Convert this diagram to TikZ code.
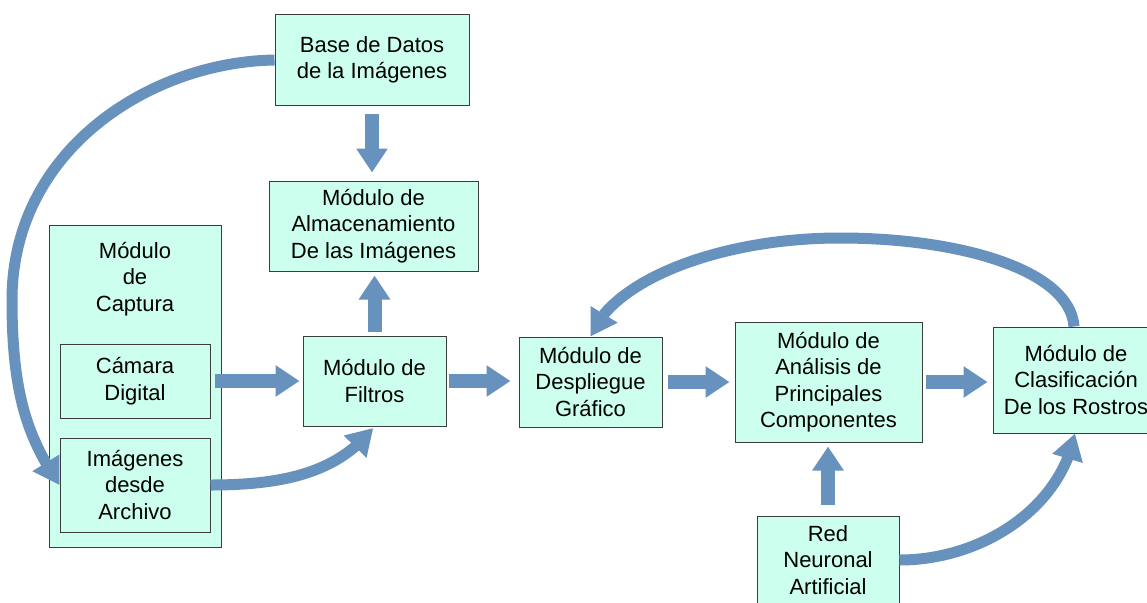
\documentclass[tikz,border=0pt]{standalone}
\usepackage{fontspec}
\setmainfont{Liberation Sans}
\usetikzlibrary{arrows.meta,bending}
\definecolor{boxfill}{RGB}{204,255,238}
\definecolor{boxline}{RGB}{60,60,60}
\definecolor{flow}{RGB}{104,146,190}
\begin{document}
\begin{tikzpicture}[x=1pt,y=-1pt,
  box/.style={draw=boxline, line width=1pt, fill=boxfill, inner sep=0pt,
    align=center, font=\fontsize{22}{26.5}\selectfont},
  caption/.style={inner sep=0pt, align=center, font=\fontsize{22}{26.5}\selectfont},
  blockarrow/.style={draw=flow, line width=14pt, line cap=butt,
    -{Triangle[length=24pt,width=30pt]}},
  curvearrow/.style={draw=flow, line width=11pt, line cap=butt,
    -{Triangle[length=26pt,width=30pt]}},
  ]
\useasboundingbox (0,0) rectangle (1147,602);
\fill[white] (0,0) rectangle (1147,602);

% boxes
\node[box, minimum width=194pt, minimum height=90pt] (base) at (372,60)
  {Base de Datos\\de la Imágenes};
\node[box, minimum width=209pt, minimum height=90pt] (alm) at (373.5,226)
  {Módulo de\\Almacenamiento\\De las Imágenes};
\node[box, minimum width=172pt, minimum height=322pt] (cap) at (135,386) {};
\node[caption] (capt) at (135,279) {Módulo\\de\\Captura};
\node[box, minimum width=150pt, minimum height=74pt] (cam) at (135,381)
  {Cámara\\Digital};
\node[box, minimum width=150pt, minimum height=94pt] (img) at (135,485)
  {Imágenes\\desde\\Archivo};
\node[box, minimum width=143pt, minimum height=90pt] (fil) at (374.5,381)
  {Módulo de\\Filtros};
\node[box, minimum width=143pt, minimum height=90pt] (des) at (590.5,382)
  {Módulo de\\Despliegue\\Gráfico};
\node[box, minimum width=187pt, minimum height=120pt] (ana) at (828.5,382)
  {Módulo de\\Análisis de\\Principales\\Componentes};
\node[box, minimum width=166pt, minimum height=106pt] (cla) at (1076,380)
  {Módulo de\\Clasificación\\De los Rostros};
\node[box, minimum width=142pt, minimum height=88pt] (red) at (828,560)
  {Red\\Neuronal\\Artificial};

% straight block arrows
\draw[blockarrow, shorten <=8pt, shorten >=8pt] (base.south) -- (base.south |- alm.north);
\draw[blockarrow, shorten <=4pt, shorten >=4pt] (fil.north) -- (fil.north |- alm.south);
\draw[blockarrow, shorten <=4pt, shorten >=3pt] (cam.east) -- (cam.east -| fil.west);
\draw[blockarrow, shorten <=2pt, shorten >=8pt] (fil.east) -- (fil.east -| des.west);
\draw[blockarrow, shorten <=5pt, shorten >=5pt] (des.east) -- (des.east -| ana.west);
\draw[blockarrow, shorten <=3pt, shorten >=5pt] (ana.east) -- (ana.east -| cla.west);
\draw[blockarrow, shorten <=11pt, shorten >=4pt] (red.north) -- (red.north |- ana.south);

% curved arrows
\draw[curvearrow] (base.west) .. controls (150,62) and (12,150) .. (12,300)
  .. controls (12,400) and (30,440) .. (img.west);
\draw[curvearrow, shorten >=2pt] (img.east) .. controls (290,485) and (340,470) .. (fil.south);
\draw[curvearrow] ([xshift=-2pt]cla.north) .. controls (1070,270) and (960,238) .. (840,238)
  .. controls (720,238) and (612,280) .. (des.north);
\draw[curvearrow] (red.east) .. controls (980,560) and (1060,510) .. ([xshift=-1pt]cla.south);
\end{tikzpicture}
\end{document}
